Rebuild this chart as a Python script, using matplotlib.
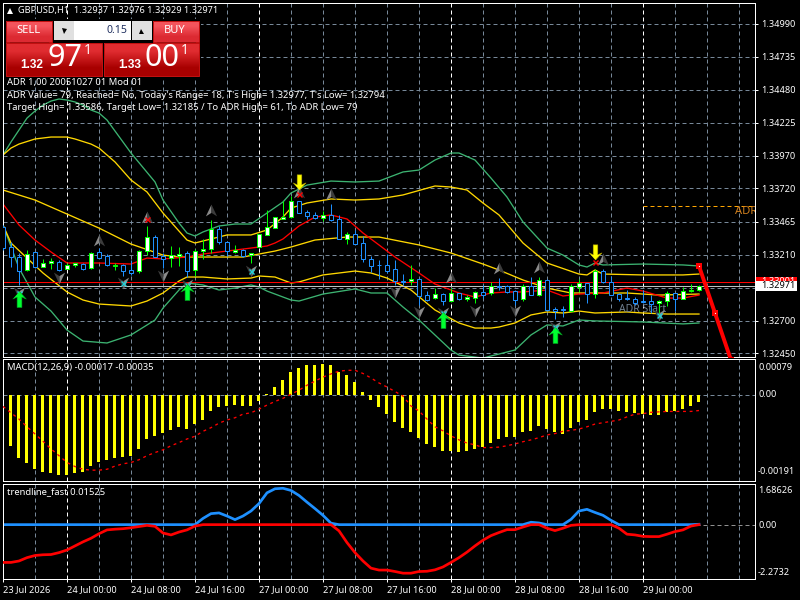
import numpy as np
import matplotlib
matplotlib.use('Agg')
import matplotlib.pyplot as plt
from matplotlib.patches import Rectangle

# hourly candles, GBPUSD
opens = [1.33426,1.33272,1.33189,1.33092,1.33228,1.33118,1.33148,1.33156,1.33097,1.33133,
         1.33141,1.33105,1.33228,1.33197,1.33125,1.33128,1.33089,1.33082,1.33241,1.33343,
         1.33200,1.33182,1.33200,1.33220,1.33089,1.33238,1.33251,1.33405,1.33310,1.33230,
         1.33243,1.33205,1.33266,1.33364,1.33418,1.33487,1.33497,1.33621,1.33536,1.33513,
         1.33495,1.33513,1.33482,1.33333,1.33367,1.33297,1.33174,1.33133,1.33128,1.33097,
         1.33010,1.33005,1.33020,1.32897,1.32874,1.32904,1.32851,1.32912,1.32871,1.32879,
         1.32920,1.32912,1.32969,1.32966,1.32928,1.32866,1.32971,1.32902,1.33015,1.32789,
         1.32789,1.32779,1.32964,1.32989,1.32907,1.33082,1.32997,1.32907,1.32874,1.32866,
         1.32856,1.32851,1.32835,1.32856,1.32912,1.32871,1.32928,1.32937]
highs = [1.33438,1.33310,1.33220,1.33246,1.33228,1.33174,1.33182,1.33169,1.33148,1.33148,
         1.33148,1.33228,1.33259,1.33212,1.33143,1.33138,1.33169,1.33246,1.33431,1.33361,
         1.33225,1.33277,1.33272,1.33241,1.33251,1.33328,1.33477,1.33431,1.33318,1.33282,
         1.33251,1.33220,1.33367,1.33554,1.33503,1.33621,1.33662,1.33621,1.33554,1.33539,
         1.33544,1.33600,1.33515,1.33387,1.33400,1.33354,1.33200,1.33169,1.33215,1.33169,
         1.33061,1.33128,1.33025,1.32933,1.32953,1.32912,1.32951,1.32917,1.32897,1.32928,
         1.32979,1.32999,1.33030,1.32974,1.32933,1.32984,1.33035,1.33035,1.33020,1.32810,
         1.32815,1.32982,1.33025,1.32994,1.33097,1.33097,1.33046,1.32917,1.32938,1.32887,
         1.32938,1.32897,1.32861,1.32928,1.32917,1.32964,1.32984,1.32976]
lows = [1.33246,1.33112,1.32976,1.33087,1.33105,1.33118,1.33100,1.33087,1.33097,1.33118,
        1.33092,1.33100,1.33182,1.33125,1.33092,1.33046,1.33053,1.33066,1.33207,1.33189,
        1.33105,1.33118,1.33123,1.33040,1.33046,1.33174,1.33225,1.33292,1.33200,1.33225,
        1.33189,1.33143,1.33266,1.33361,1.33413,1.33482,1.33492,1.33533,1.33487,1.33485,
        1.33472,1.33472,1.33328,1.33292,1.33292,1.33156,1.33079,1.33025,1.33071,1.32976,
        1.32976,1.32976,1.32822,1.32856,1.32871,1.32822,1.32846,1.32861,1.32856,1.32840,
        1.32876,1.32897,1.32938,1.32912,1.32822,1.32856,1.32902,1.32892,1.32774,1.32717,
        1.32733,1.32774,1.32922,1.32840,1.32874,1.32994,1.32897,1.32851,1.32861,1.32822,
        1.32840,1.32758,1.32753,1.32815,1.32779,1.32866,1.32925,1.32929]
closes = [1.33259,1.33189,1.33087,1.33215,1.33118,1.33148,1.33161,1.33092,1.33133,1.33148,
          1.33102,1.33225,1.33187,1.33128,1.33133,1.33087,1.33071,1.33241,1.33343,1.33194,
          1.33179,1.33205,1.33212,1.33087,1.33241,1.33251,1.33405,1.33310,1.33236,1.33243,
          1.33197,1.33220,1.33367,1.33420,1.33497,1.33497,1.33621,1.33533,1.33510,1.33495,
          1.33513,1.33479,1.33333,1.33367,1.33295,1.33174,1.33125,1.33128,1.33087,1.33007,
          1.33002,1.33020,1.32894,1.32861,1.32904,1.32853,1.32912,1.32871,1.32881,1.32920,
          1.32899,1.32969,1.32961,1.32925,1.32861,1.32971,1.32902,1.33012,1.32786,1.32779,
          1.32781,1.32969,1.32989,1.32907,1.33082,1.32997,1.32902,1.32871,1.32866,1.32835,
          1.32845,1.32833,1.32856,1.32912,1.32871,1.32928,1.32938,1.32971]

# channel lines on the price window
upper_green_bars = [0,1,2,3,4,5,6,7,8,9,10,11,12,13,16,19,20,22,23,24,25,27,29,31,33,35,36,38,41,44,47,50,52,54,56,57,59,61,63,65,68,70,72,73,74,75,80,85,87]
upper_green = [1.33978,1.34078,1.34170,1.34262,1.34316,1.34362,1.34393,1.34409,1.34401,1.34386,1.34362,1.34324,1.34301,1.34247,1.33993,1.33770,1.33631,1.33454,1.33377,1.33354,1.33385,1.33431,1.33446,1.33446,1.33531,1.33616,1.33685,1.33746,1.33777,1.33770,1.33777,1.33847,1.33862,1.33939,1.33993,1.33993,1.33939,1.33800,1.33654,1.33462,1.33261,1.33207,1.33131,1.33115,1.33146,1.33131,1.33138,1.33131,1.33123]
upper_gold_bars = [0,1,2,4,6,8,9,11,12,14,16,18,20,22,23,24,26,28,31,33,35,36,38,41,44,47,50,54,56,58,60,62,65,68,72,73,74,75,80,85,87]
upper_gold = [1.33978,1.34031,1.34062,1.34101,1.34116,1.34116,1.34101,1.34062,1.34031,1.33924,1.33785,1.33693,1.33531,1.33392,1.33323,1.33300,1.33331,1.33362,1.33362,1.33400,1.33500,1.33569,1.33608,1.33639,1.33631,1.33639,1.33670,1.33739,1.33731,1.33708,1.33608,1.33516,1.33300,1.33146,1.33061,1.33054,1.33092,1.33061,1.33054,1.33054,1.33061]
mid_gold_bars = [0,4,8,12,16,20,22,30,32,34,36,39,43,47,52,56,60,62,65,68,71,73,78,82,87]
mid_gold = [1.33708,1.33631,1.33523,1.33415,1.33292,1.33207,1.33192,1.33192,1.33215,1.33238,1.33269,1.33323,1.33346,1.33346,1.33285,1.33223,1.33138,1.33092,1.33015,1.32953,1.32915,1.32915,1.32915,1.32899,1.32907]
mid_red_bars = [0,2,4,6,8,12,16,18,20,23,25,28,31,33,34,35,37,39,41,43,45,47,49,52,54,57,59,61,63,65,68,70,72,75,78,80,83,85,87]
mid_red = [1.33600,1.33439,1.33323,1.33231,1.33146,1.33146,1.33138,1.33184,1.33177,1.33192,1.33215,1.33238,1.33261,1.33277,1.33300,1.33331,1.33431,1.33500,1.33516,1.33485,1.33377,1.33285,1.33192,1.33069,1.32984,1.32915,1.32884,1.32915,1.32923,1.32923,1.32938,1.32892,1.32907,1.32915,1.32953,1.32930,1.32876,1.32876,1.32899]
lower_gold_bars = [0,1,3,5,8,10,12,16,18,20,22,23,25,28,31,32,34,36,37,40,44,46,48,51,54,57,59,61,62,64,66,68,70,72,74,78,80,83,87]
lower_gold = [1.33439,1.33300,1.33184,1.33069,1.32923,1.32861,1.32830,1.32815,1.32853,1.32915,1.33007,1.33038,1.33038,1.33023,1.33030,1.33046,1.33038,1.32992,1.33000,1.33054,1.33084,1.33069,1.33030,1.32938,1.32784,1.32684,1.32645,1.32645,1.32653,1.32684,1.32746,1.32769,1.32761,1.32776,1.32761,1.32769,1.32761,1.32753,1.32753]
lower_green_bars = [0,2,4,6,8,10,13,16,19,20,22,23,25,27,29,31,32,33,36,37,40,44,46,48,50,52,56,57,60,61,62,64,66,68,70,72,74,80,85,87]
lower_green = [1.33439,1.33107,1.32884,1.32776,1.32630,1.32545,1.32530,1.32592,1.32707,1.32799,1.32938,1.32992,1.32977,1.32938,1.32953,1.32977,1.32961,1.32930,1.32861,1.32853,1.32907,1.32946,1.32915,1.32915,1.32807,1.32707,1.32476,1.32437,1.32414,1.32430,1.32445,1.32476,1.32592,1.32669,1.32661,1.32707,1.32700,1.32692,1.32677,1.32684]

# signal markers on the candles
buy_arrow_bars = [2,23,55,69]
buy_arrow_vals = [1.32869,1.32923,1.32707,1.32592]
sell_arrow_bars = [37,74]
sell_arrow_vals = [1.33770,1.33231]
fractal_up_bars = [12,18,26,37,41,56,62,67,75]
fractal_up_vals = [1.33323,1.33500,1.33554,1.33693,1.33677,1.33038,1.33107,1.33115,1.33177]
fractal_dn_bars = [2,7,15,20,23,31,49,52,55,59,64,69,82]
fractal_dn_vals = [1.32915,1.33030,1.32992,1.33046,1.32977,1.33084,1.32923,1.32769,1.32761,1.32776,1.32776,1.32653,1.32745]
cyan_cross_bars = [2,15,23,31,55,69,82]
cyan_cross_vals = [1.32915,1.32992,1.32977,1.33084,1.32761,1.32653,1.32745]
red_cross_bars = [18,37,74]
red_cross_vals = [1.33485,1.33677,1.33154]

# projection drawn past the last candle
projection_bars = [87,89,91]
projection_vals = [1.33123,1.32761,1.32399]

bid = 1.32971
ask = 1.33001
target_high = 1.33586

price_ticks = [1.34990,1.34735,1.34480,1.34225,1.33970,1.33720,1.33465,1.33210,1.32955,1.32700,1.32450]
price_labels = ['1.34990','1.34735','1.34480','1.34225','1.33970','1.33720','1.33465','1.33210','','1.32700','1.32450']

macd_hist = [-0.00087,-0.00114,-0.00140,-0.00151,-0.00164,-0.00171,-0.00173,-0.00177,-0.00177,-0.00173,
             -0.00171,-0.00158,-0.00149,-0.00144,-0.00140,-0.00138,-0.00136,-0.00120,-0.00098,-0.00092,
             -0.00085,-0.00078,-0.00072,-0.00076,-0.00065,-0.00056,-0.00037,-0.00028,-0.00026,-0.00023,
             -0.00026,-0.00026,-0.00015,0.00002,0.00018,0.00032,0.00051,0.00060,0.00065,0.00065,
             0.00067,0.00065,0.00051,0.00043,0.00029,0.00007,-0.00012,-0.00028,-0.00043,-0.00061,
             -0.00074,-0.00083,-0.00096,-0.00109,-0.00116,-0.00125,-0.00125,-0.00127,-0.00125,-0.00120,
             -0.00116,-0.00107,-0.00098,-0.00094,-0.00094,-0.00083,-0.00081,-0.00070,-0.00076,-0.00083,
             -0.00087,-0.00074,-0.00061,-0.00056,-0.00039,-0.00032,-0.00032,-0.00037,-0.00039,-0.00041,
             -0.00043,-0.00045,-0.00045,-0.00039,-0.00037,-0.00032,-0.00026,-0.00017]
macd_signal = [-0.00026,-0.00040,-0.00054,-0.00071,-0.00087,-0.00103,-0.00120,-0.00135,-0.00150,-0.00159,
               -0.00165,-0.00167,-0.00167,-0.00165,-0.00158,-0.00153,-0.00150,-0.00144,-0.00135,-0.00128,
               -0.00122,-0.00113,-0.00106,-0.00098,-0.00092,-0.00081,-0.00073,-0.00063,-0.00056,-0.00051,
               -0.00043,-0.00040,-0.00032,-0.00023,-0.00015,-0.00008,0.00001,0.00010,0.00021,0.00030,
               0.00039,0.00046,0.00052,0.00054,0.00054,0.00047,0.00037,0.00026,0.00017,0.00007,
               -0.00003,-0.00025,-0.00036,-0.00054,-0.00071,-0.00080,-0.00091,-0.00100,-0.00107,-0.00111,
               -0.00117,-0.00117,-0.00116,-0.00113,-0.00109,-0.00104,-0.00100,-0.00095,-0.00089,-0.00086,
               -0.00081,-0.00079,-0.00076,-0.00071,-0.00065,-0.00062,-0.00059,-0.00056,-0.00049,-0.00043,
               -0.00042,-0.00039,-0.00038,-0.00037,-0.00037,-0.00037,-0.00037,-0.00035]

trend_up = [0,0,0,0,0,0,0,0,0,0,0,0,0,0,0,0,0,0,0,0,0,0,0,0,0,
            0.26,0.46,0.49,0.36,0.21,0.36,0.57,0.88,1.33,1.50,1.52,1.43,1.22,0.94,0.67,0.39,0.06,
            0,0,0,0,0,0,0,0,0,0,0,0,0,0,0,0,0,0,0,0,0,0,0,0,
            0.10,0.07,0,0,0,0.22,0.57,0.64,0.51,0.39,0.18,
            0,0,0,0,0,0,0,0,0,0,0.015]
trend_down = [-1.58,-1.58,-1.52,-1.38,-1.29,-1.26,-1.25,-1.17,-1.06,-0.89,-0.72,-0.57,-0.38,-0.22,-0.19,-0.17,-0.13,-0.08,-0.03,-0.07,-0.35,-0.43,-0.31,-0.22,-0.06,
              0,0,0,0,0,0,0,0,0,0,0,0,0,0,0,0,0,
              -0.26,-0.75,-1.17,-1.52,-1.82,-1.90,-1.90,-1.96,-2.03,-2.03,-1.96,-1.95,-1.89,-1.77,-1.58,-1.38,-1.15,-0.89,-0.65,-0.46,-0.33,-0.21,-0.21,-0.10,
              0,0,-0.15,-0.25,-0.15,-0.03,0,0,0,0,0,
              -0.15,-0.40,-0.43,-0.49,-0.50,-0.50,-0.40,-0.29,-0.22,-0.06,0]

time_ticks = [0,8,16,24,32,40,48,56,64,72,80]
time_labels = ['23 Jul 2026','24 Jul 00:00','24 Jul 08:00','24 Jul 16:00','27 Jul 00:00','27 Jul 08:00',
               '27 Jul 16:00','28 Jul 00:00','28 Jul 08:00','28 Jul 16:00','29 Jul 00:00']
day_starts = [8,32,56,80]

plt.rcParams['font.family'] = ['Noto Sans', 'DejaVu Sans']
plt.rcParams['font.size'] = 6.6

LW = 0.72
BAND_LW = 0.95
GRID = '#778899'
GOLD = '#ffd700'
GREEN = '#3cb371'
BULL = '#00ff00'
BEAR = '#1e90ff'
DASH = (0, (4, 3))

fig = plt.figure(figsize=(8, 6), dpi=100, facecolor='black')


def panel(top, bottom):
    ax = fig.add_axes([2.5 / 800, 1 - bottom / 600, 752 / 800, (bottom - top) / 600], facecolor='black')
    ax.set_xlim(-0.0625, 93.94)
    for s in ax.spines.values():
        s.set_color('white')
        s.set_linewidth(LW)
    ax.yaxis.tick_right()
    ax.tick_params(colors='white', length=2, width=LW, pad=3)
    ax.set_xticks([])
    # vertical grid every four hours, brighter at the day change
    for b in range(4, 94, 4):
        ax.axvline(b, color='white' if b in day_starts else GRID, lw=LW, ls=DASH, zorder=1)
    return ax


# ---- price window ----
ax = panel(2.5, 356.5)
ax.set_ylim(1.32426, 1.35152)
ax.set_yticks(price_ticks)
ax.set_yticklabels(price_labels)
for p in price_ticks:
    ax.axhline(p, color=GRID, lw=LW, ls=DASH, zorder=1)

ax.plot(upper_green_bars, upper_green, color=GREEN, lw=BAND_LW, zorder=2)
ax.plot(lower_green_bars, lower_green, color=GREEN, lw=BAND_LW, zorder=2)
ax.plot(upper_gold_bars, upper_gold, color=GOLD, lw=BAND_LW, zorder=2)
ax.plot(mid_gold_bars, mid_gold, color=GOLD, lw=BAND_LW, zorder=2)
ax.plot(lower_gold_bars, lower_gold, color=GOLD, lw=BAND_LW, zorder=2)
ax.plot(mid_red_bars, mid_red, color='red', lw=BAND_LW, zorder=2)

ax.axhline(ask, color='red', lw=LW, zorder=2)
ax.axhline(bid, color='#c0c0c0', lw=LW, zorder=2)
ax.hlines(target_high, 80, 93.94, color='#ffa500', lw=LW, ls=DASH, zorder=2)
ax.text(91.5, 1.33539, 'ADR', color='#d2801e', fontsize=8, va='center', clip_on=True, zorder=2)
ax.text(77, 1.32787, 'ADR Start', color='#708090', fontsize=7.5, va='center', zorder=2)

# candles
x = np.arange(len(opens))
o = np.array(opens)
h = np.array(highs)
l = np.array(lows)
c = np.array(closes)
up = c >= o
ax.vlines(x[up], l[up], h[up], color=BULL, lw=LW, zorder=3)
ax.vlines(x[~up], l[~up], h[~up], color=BEAR, lw=LW, zorder=3)
ax.bar(x[up], (c - o)[up], bottom=o[up], width=0.62, facecolor='white', edgecolor=BULL, linewidth=LW, zorder=4)
ax.bar(x[~up], (o - c)[~up], bottom=c[~up], width=0.62, facecolor='black', edgecolor=BEAR, linewidth=LW, zorder=4)

# markers
arrow_up = [(0, 1), (0.85, 0.05), (0.3, 0.3), (0.3, -1), (-0.3, -1), (-0.3, 0.3), (-0.85, 0.05)]
arrow_dn = [(a, -b) for a, b in arrow_up]
head_l = [(0, 1), (-0.95, -1), (0, -0.4)]
head_r = [(0, 1), (0.95, -1), (0, -0.4)]
ax.plot(fractal_up_bars, fractal_up_vals, ls='', marker=head_l, ms=8.5, color='#8a8a8a', mew=0, zorder=5)
ax.plot(fractal_up_bars, fractal_up_vals, ls='', marker=head_r, ms=8.5, color='#3c3c3c', mew=0, zorder=5)
ax.plot(fractal_dn_bars, fractal_dn_vals, ls='', marker=[(a, -b) for a, b in head_l], ms=8.5, color='#3c3c3c', mew=0, zorder=5)
ax.plot(fractal_dn_bars, fractal_dn_vals, ls='', marker=[(a, -b) for a, b in head_r], ms=8.5, color='#8a8a8a', mew=0, zorder=5)
ax.plot(cyan_cross_bars, cyan_cross_vals, ls='', marker='x', ms=3.6, mew=1.0, color='#20d0d8', zorder=6)
ax.plot(red_cross_bars, red_cross_vals, ls='', marker='x', ms=3.6, mew=1.0, color='red', zorder=6)
ax.plot(buy_arrow_bars, buy_arrow_vals, ls='', marker=arrow_up, ms=11.5, color='#00ff30', mec='#00a020', mew=0.4, zorder=7)
ax.plot(sell_arrow_bars, sell_arrow_vals, ls='', marker=arrow_dn, ms=11, color='#ffff00', mec='#b0a000', mew=0.4, zorder=7)

# projection line with square nodes
ax.plot(projection_bars, projection_vals, color='red', lw=2.8, zorder=8)
ax.plot(projection_bars, projection_vals, ls='', marker='s', ms=4.8, color='red', mew=0, zorder=8)
ax.plot(projection_bars, projection_vals, ls='', marker='s', ms=0.8, color='white', mew=0, zorder=9)

# ---- MACD window ----
ax2 = panel(359, 481)
ax2.set_ylim(-0.00191, 0.00079)
ax2.set_yticks([])
ax2.axhline(0, color=GRID, lw=LW, ls=DASH, zorder=1)
ax2.bar(np.arange(len(macd_hist)), macd_hist, width=0.375, color='#ffff00', linewidth=0, zorder=2)
ax2.plot(np.arange(len(macd_signal)), macd_signal, color='red', lw=BAND_LW, ls=(0, (2.2, 2.8)), zorder=3)
for val, off, lab in [(0.00079, -6.2, '0.00079'), (0, 0, '0.00'), (-0.00191, 6.8, '-0.00191')]:
    ax2.annotate(lab, xy=(1, val), xycoords=('axes fraction', 'data'), xytext=(2.6, off),
                 textcoords='offset points', color='white', va='center', annotation_clip=False)

# ---- trend window ----
ax3 = panel(483.5, 579)
ax3.set_ylim(-2.2732, 1.72)
ax3.set_yticks([])
ax3.axhline(0, color='#909090', lw=LW, ls=DASH, zorder=1)
ax3.plot(np.arange(len(trend_up)), trend_up, color=BEAR, lw=1.95, zorder=2)
ax3.plot(np.arange(len(trend_down)), trend_down, color='red', lw=1.95, zorder=3)
for val, off, lab in [(1.72, -5, '1.68626'), (0, -0.5, '0.00'), (-2.2732, 4.5, '-2.2732')]:
    ax3.annotate(lab, xy=(1, val), xycoords=('axes fraction', 'data'), xytext=(2.6, off),
                 textcoords='offset points', color='white', va='center', annotation_clip=False)
ax3.set_xticks(time_ticks)
ax3.set_xticklabels(time_labels, ha='left')
ax3.tick_params(axis='x', length=2, pad=2.5, colors='white')

# ---- overlay in screen pixels: trade panel, captions, price tags ----
top = fig.add_axes([0, 0, 1, 1], facecolor='none')
top.axis('off')


def grad(x0, y0, x1, y1, c0, c1, edge=None):
    col = np.array([matplotlib.colors.to_rgb(c0), matplotlib.colors.to_rgb(c1)]).reshape(2, 1, 3)
    top.imshow(col, extent=(x0, x1, y1, y0), aspect='auto', interpolation='bilinear', zorder=10)
    if edge:
        top.add_patch(Rectangle((x0, y0), x1 - x0, y1 - y0, fill=False, ec=edge, lw=LW, zorder=11))


# black backing behind the panel
top.add_patch(Rectangle((4, 19), 197, 59, fc='black', ec='none', zorder=9))
grad(6, 21, 52, 42, '#f4545c', '#dc2a32', '#c01010')
grad(153, 21, 199, 42, '#f4545c', '#dc2a32', '#c01010')
grad(6, 43, 102, 76, '#e02c30', '#a80000', '#c01010')
grad(104, 43, 199, 76, '#e02c30', '#a80000', '#c01010')
top.plot([10, 48], [41.5, 41.5], color='#a01010', lw=LW, zorder=12)
top.plot([157, 195], [41.5, 41.5], color='#a01010', lw=LW, zorder=12)
top.add_patch(Rectangle((54, 21), 20, 19, fc='#e0e0e0', ec='none', zorder=11))
top.add_patch(Rectangle((74, 21), 57, 19, fc='white', ec='none', zorder=11))
top.add_patch(Rectangle((132, 21), 20, 19, fc='#e0e0e0', ec='none', zorder=11))
top.plot([63.5], [30.5], ls='', marker='v', ms=3.6, color='black', mew=0, zorder=12)
top.plot([140.5], [30.5], ls='', marker='^', ms=3.6, color='black', mew=0, zorder=12)
top.text(127, 30.5, '0.15', color='#203060', ha='right', va='center', fontsize=7.6, zorder=12)
top.text(28, 30.5, 'SELL', color='white', ha='center', va='center', fontsize=8, zorder=12)
top.text(175, 30.5, 'BUY', color='white', ha='center', va='center', fontsize=8, zorder=12)
top.text(32, 65.5, '1.32', color='white', ha='center', va='center', fontsize=8.6, fontweight='bold', family='Liberation Sans', zorder=12)
top.text(65, 58.5, '97', color='white', ha='center', va='center', fontsize=22, zorder=12)
top.text(88, 50, '1', color='white', ha='center', va='center', fontsize=10, zorder=12)
top.text(130, 65.5, '1.33', color='white', ha='center', va='center', fontsize=8.6, fontweight='bold', family='Liberation Sans', zorder=12)
top.text(162, 58.5, '00', color='white', ha='center', va='center', fontsize=22, zorder=12)
top.text(185, 50, '1', color='white', ha='center', va='center', fontsize=10, zorder=12)

top.plot([10], [10.5], ls='', marker='^', ms=4, color='white', mew=0, zorder=12)
top.text(18, 10.5, 'GBPUSD,H1  1.32937 1.32976 1.32929 1.32971', color='white', va='center', zorder=12)
top.text(7, 83, 'ADR 1,00 20051027 01 Mod 01', color='white', va='center', fontsize=6.8, zorder=12)
top.text(7, 95, "ADR Value= 79, Reached= No, Today's Range= 18, T's High= 1.32977, T's Low= 1.32794", color='white', va='center', fontsize=6.8, zorder=12)
top.text(7, 107, 'Target High= 1.33586, Target Low= 1.32185 / To ADR High= 61, To ADR Low= 79', color='white', va='center', fontsize=6.8, zorder=12)
top.text(7, 367.5, 'MACD(12,26,9) -0.00017 -0.00035', color='white', va='center', fontsize=6.8, zorder=12)
top.text(7, 492, 'trendline_fast 0.01525', color='white', va='center', fontsize=6.8, zorder=12)

# current ask and bid tags on the price scale
top.add_patch(Rectangle((756, 276.5), 41, 10.5, fc='red', ec='none', zorder=12))
top.text(761, 281.5, '1.33001', color='white', va='center', zorder=12.5)
top.add_patch(Rectangle((756, 280.7), 41, 10.3, fc='white', ec='none', zorder=13))
top.text(761, 285.8, '1.32971', color='black', va='center', zorder=14)

top.set_xlim(0, 800)
top.set_ylim(600, 0)

fig.savefig('out.png', dpi=100, facecolor='black')
